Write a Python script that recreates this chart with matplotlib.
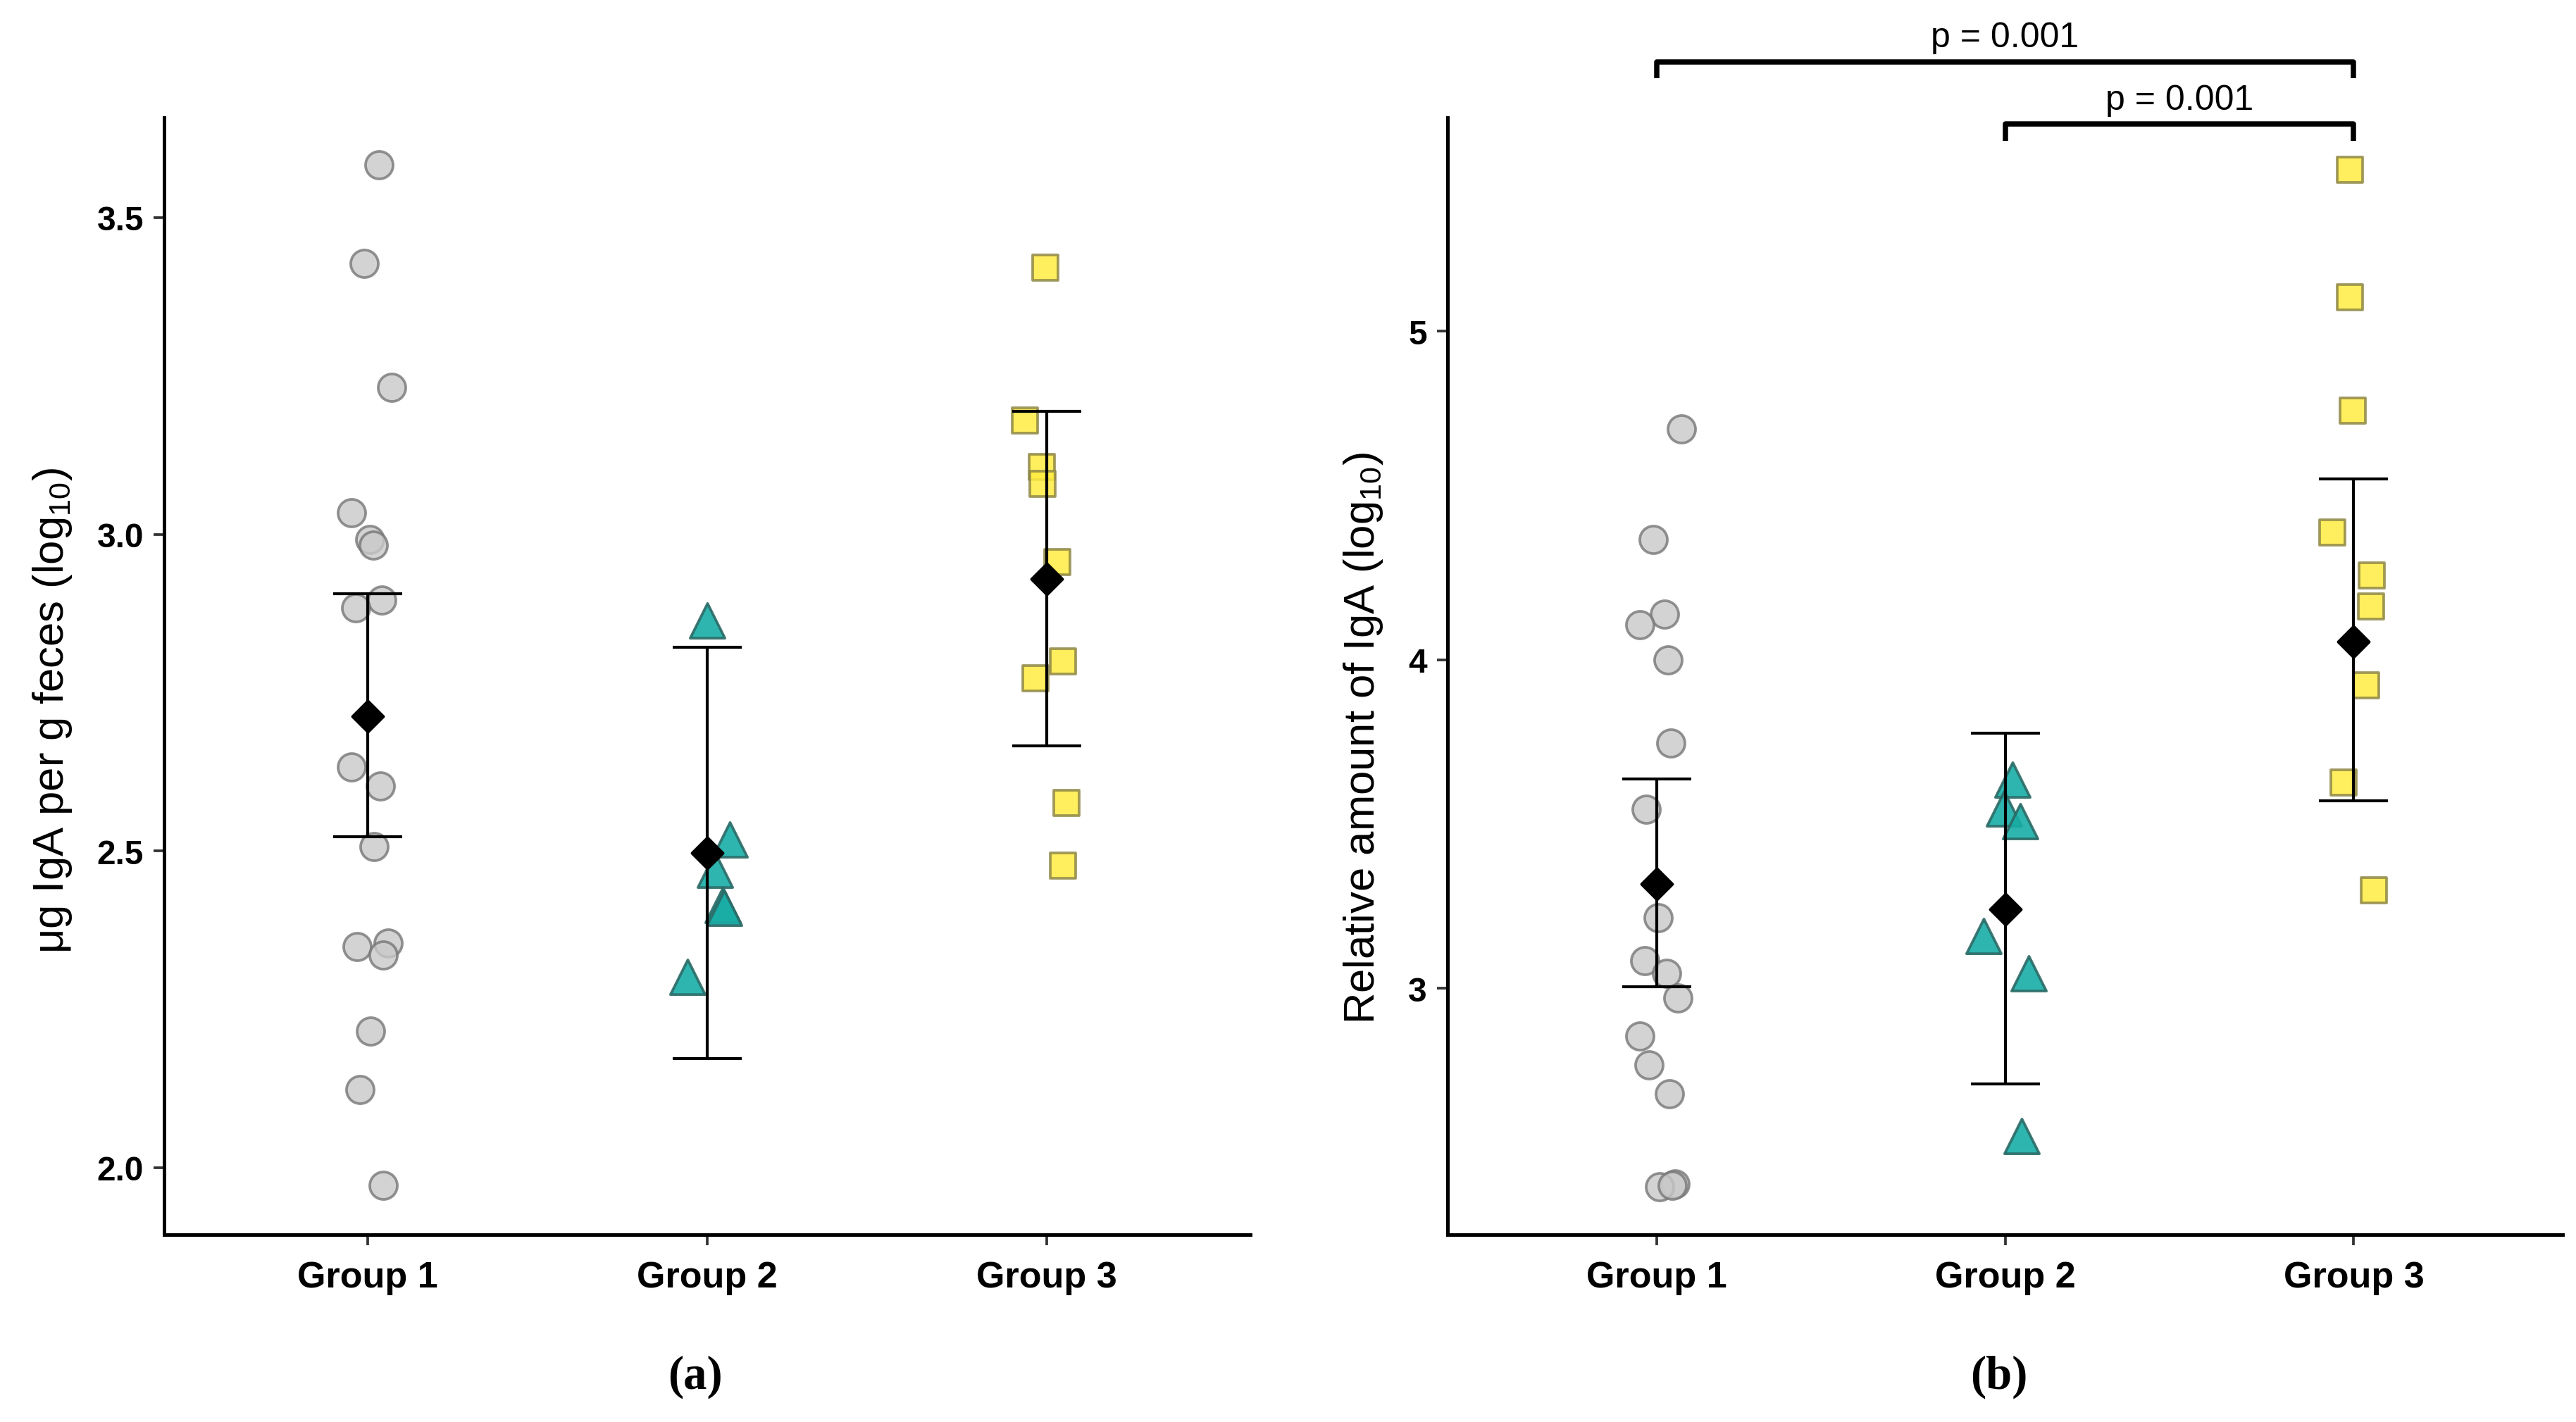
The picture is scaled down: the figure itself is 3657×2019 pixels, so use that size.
import numpy as np
import matplotlib
matplotlib.use("Agg")
import matplotlib.pyplot as plt

plt.rcParams['font.family'] = ['Liberation Sans', 'DejaVu Sans']
plt.rcParams['mathtext.fontset'] = 'custom'
plt.rcParams['mathtext.rm'] = 'Liberation Sans'

# -------------------------------------------------------------------------
# Data
# -------------------------------------------------------------------------
groups = ['Group 1', 'Group 2', 'Group 3']

# panel (a): ug IgA per g feces (log10)
a_g1 = [3.583, 3.428, 3.232, 3.034, 2.992, 2.983, 2.896, 2.884, 2.633,
        2.603, 2.507, 2.349, 2.355, 2.336, 2.216, 2.123, 1.972]
a_g1_dx = [0.032, -0.011, 0.070, -0.048, 0.005, 0.016, 0.040, -0.035, -0.048,
           0.037, 0.019, -0.032, 0.059, 0.046, 0.008, -0.024, 0.046]
a_g2 = [2.864, 2.518, 2.470, 2.415, 2.410, 2.301]
a_g2_dx = [0.0, 0.066, 0.023, 0.045, 0.050, -0.059]
a_g3 = [3.421, 3.180, 3.106, 3.080, 2.956, 2.799, 2.773, 2.576, 2.477]
a_g3_dx = [-0.004, -0.064, -0.013, -0.011, 0.032, 0.049, -0.033, 0.058, 0.049]
a_mean = [2.713, 2.497, 2.929]
a_lower = [2.522, 2.172, 2.666]
a_upper = [2.906, 2.822, 3.194]

# panel (b): relative amount of IgA (log10)
b_g1 = [4.702, 4.366, 4.138, 4.107, 4.000, 3.746, 3.545, 3.214, 3.084,
        3.045, 2.970, 2.854, 2.768, 2.679, 2.405, 2.396, 2.400]
b_g1_dx = [0.071, -0.010, 0.022, -0.049, 0.032, 0.041, -0.030, 0.004, -0.034,
           0.028, 0.061, -0.049, -0.021, 0.037, 0.054, 0.009, 0.045]
b_g2 = [3.634, 3.548, 3.509, 3.159, 3.045, 2.550]
b_g2_dx = [0.022, -0.004, 0.044, -0.062, 0.067, 0.048]
b_g3 = [5.492, 5.103, 4.758, 4.387, 4.257, 4.162, 3.922, 3.627, 3.298]
b_g3_dx = [-0.012, -0.010, -0.003, -0.062, 0.052, 0.050, 0.036, -0.029, 0.057]
b_mean = [3.318, 3.241, 4.056]
b_lower = [3.004, 2.709, 3.570]
b_upper = [3.637, 3.777, 4.550]

# significance brackets on panel (b): (from group, to group, height, label)
b_brackets = [(1, 3, 5.82, 'p = 0.001'),
              (2, 3, 5.63, 'p = 0.001')]

# -------------------------------------------------------------------------
# Styles
# -------------------------------------------------------------------------
STYLES = [
    dict(marker='o', s=88, facecolor='#C9C9C9', edgecolor='#777777', alpha=0.8),
    dict(marker='^', s=140, facecolor='#17ADA6', edgecolor='#2A6A66', alpha=0.9),
    dict(marker='s', s=72, facecolor='#FFEC40', edgecolor='#8E8746', alpha=0.85),
]


def draw_panel(ax, series, mean, lower, upper, yticks, ylim, fmt, ylabel,
               label_x, label_y, label_size):
    xpos = np.arange(1, 4)
    for i, (vals, dx) in enumerate(series):
        x = xpos[i] + np.array(dx)
        ax.scatter(x, vals, linewidths=0.9, zorder=2, **STYLES[i])

    mean = np.array(mean)
    yerr = [mean - np.array(lower), np.array(upper) - mean]
    ax.errorbar(xpos, mean, yerr=yerr, fmt='none', ecolor='black',
                elinewidth=1.0, capsize=11.7, capthick=1.0, zorder=3)
    ax.scatter(xpos, mean, marker='D', s=55, color='black', zorder=4)

    ax.set_xlim(0.4, 3.6)
    ax.set_ylim(*ylim)
    ax.set_xticks(xpos)
    ax.set_xticklabels(groups, fontsize=12.5, fontweight='bold')
    ax.set_yticks(yticks)
    ax.set_yticklabels([fmt.format(t) for t in yticks], fontsize=11.5, fontweight='bold')
    ax.tick_params(axis='both', length=3.6, width=0.9, pad=3.4, color='#333333')
    ax.tick_params(axis='x', pad=5)
    for side in ['top', 'right']:
        ax.spines[side].set_visible(False)
    for side in ['left', 'bottom']:
        ax.spines[side].set_linewidth(1.2)
    ax.set_ylabel(ylabel, fontsize=label_size)
    ax.yaxis.set_label_coords(label_x, label_y)


fig = plt.figure(figsize=(12.19, 6.733), dpi=300)
ax_a = fig.add_axes([0.0638, 0.1316, 0.4215, 0.7853])
ax_b = fig.add_axes([0.5619, 0.1316, 0.4330, 0.7853])

draw_panel(ax_a, [(a_g1, a_g1_dx), (a_g2, a_g2_dx), (a_g3, a_g3_dx)],
           a_mean, a_lower, a_upper, [2.0, 2.5, 3.0, 3.5], (1.894, 3.658),
           '{:.1f}', r'μg IgA per g feces (log$_{10}$)', -0.083, 0.47, 14.8)
draw_panel(ax_b, [(b_g1, b_g1_dx), (b_g2, b_g2_dx), (b_g3, b_g3_dx)],
           b_mean, b_lower, b_upper, [3, 4, 5], (2.25, 5.65),
           '{:.0f}', r'Relative amount of IgA (log$_{10}$)', -0.056, 0.445, 14.8)

# significance brackets
for x0, x1, h, txt in b_brackets:
    ax_b.plot([x0, x0, x1, x1], [h - 0.05, h, h, h - 0.05], color='black',
              lw=1.8, clip_on=False, solid_capstyle='butt')
    ax_b.text((x0 + x1) / 2, h + 0.025, txt, ha='center', va='bottom',
              fontsize=12, clip_on=False)

fig.text(0.270, 0.032, '(a)', ha='center', va='center', fontsize=16,
         fontweight='bold', family=['Liberation Serif', 'DejaVu Serif'])
fig.text(0.776, 0.032, '(b)', ha='center', va='center', fontsize=16,
         fontweight='bold', family=['Liberation Serif', 'DejaVu Serif'])

fig.savefig('out.png', dpi=300)
